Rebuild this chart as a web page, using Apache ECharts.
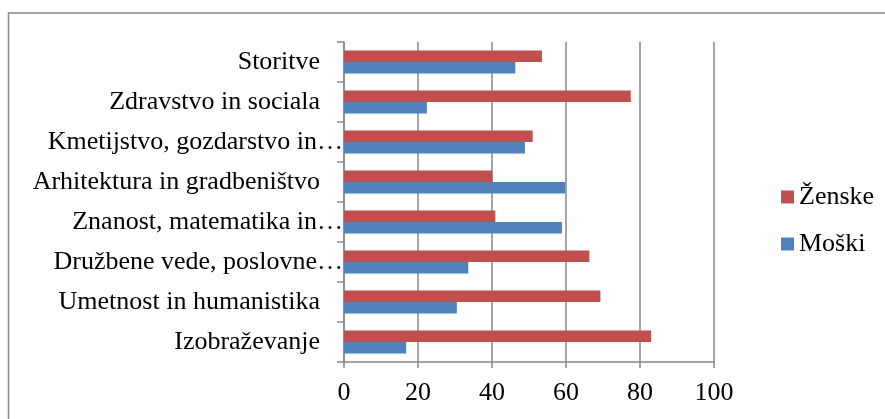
<!DOCTYPE html>
<html>
<head>
<meta charset="utf-8">
<script src="https://cdn.jsdelivr.net/npm/echarts@6/dist/echarts.min.js"></script>
<style>
html,body{margin:0;padding:0;background:#fff;}
#chart{width:885px;height:419px;}
</style>
</head>
<body>
<div id="chart"></div>
<script>
// Categories listed bottom to top (ECharts category y axis starts at the bottom)
var categories = [
  'Izobraževanje',
  'Umetnost in humanistika',
  'Družbene vede, poslovne…',
  'Znanost, matematika in…',
  'Arhitektura in gradbeništvo',
  'Kmetijstvo, gozdarstvo in…',
  'Zdravstvo in sociala',
  'Storitve'
];
var zenske = [83.0, 69.3, 66.3, 40.9, 40.1, 51.0, 77.5, 53.5];
var moski  = [16.8, 30.5, 33.6, 58.9, 59.8, 48.9, 22.4, 46.3];
var xTicks = [0, 20, 40, 60, 80, 100];

var FONT = '"Liberation Serif", "Times New Roman", serif';
var GRAY = '#878787';

var chart = echarts.init(document.getElementById('chart'));
chart.setOption({
  animation: false,
  backgroundColor: '#fff',
  graphic: [{
    type: 'rect',
    shape: {x: 8.5, y: 13, width: 900, height: 430},
    style: {fill: 'none', stroke: GRAY, lineWidth: 1.5},
    silent: true
  }],
  legend: {
    orient: 'vertical',
    left: 776,
    top: 179,
    itemWidth: 13,
    itemHeight: 13,
    itemGap: 21,
    itemTextGap: 5,
    icon: 'rect',
    data: ['Ženske', 'Moški'],
    textStyle: {fontFamily: FONT, fontSize: 26, color: '#000'}
  },
  grid: {left: 344, right: 171, top: 42, bottom: 57, containLabel: false},
  xAxis: {
    type: 'value',
    min: xTicks[0],
    max: xTicks[xTicks.length - 1],
    interval: xTicks[1] - xTicks[0],
    axisLine: {show: true, lineStyle: {color: GRAY, width: 1.5}},
    axisTick: {show: true, length: 6, lineStyle: {color: GRAY, width: 1.5}},
    splitLine: {show: true, lineStyle: {color: GRAY, width: 1.5}},
    axisLabel: {fontFamily: FONT, fontSize: 26, color: '#000', margin: 18}
  },
  yAxis: {
    type: 'category',
    data: categories,
    axisLine: {show: true, lineStyle: {color: GRAY, width: 1.5}},
    axisTick: {show: true, length: 7, lineStyle: {color: GRAY, width: 1.5}},
    axisLabel: {
      margin: 0,
      formatter: function (v) {
        return v.charAt(v.length - 1) === '…' ? '{t|' + v + '}' : '{n|' + v + '}';
      },
      rich: {
        n: {fontFamily: FONT, fontSize: 26, color: '#000', padding: [0, 24, 0, 0]},
        t: {fontFamily: FONT, fontSize: 26, color: '#000', padding: [0, 1, 0, 0]}
      }
    }
  },
  series: [
    {
      name: 'Ženske',
      type: 'bar',
      data: zenske,
      itemStyle: {color: '#C0504D'},
      barGap: '0%',
      barCategoryGap: '42%'
    },
    {
      name: 'Moški',
      type: 'bar',
      data: moski,
      itemStyle: {color: '#4F81BD'},
      barGap: '0%',
      barCategoryGap: '42%'
    }
  ]
});
</script>
</body>
</html>
